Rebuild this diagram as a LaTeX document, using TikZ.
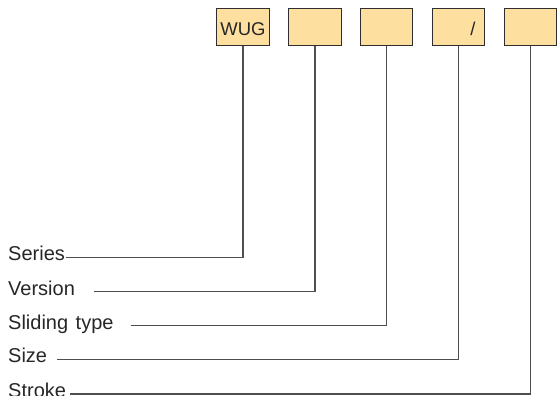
\documentclass[tikz,border=0pt]{standalone}
\usepackage{fontspec}
\setmainfont{Liberation Sans}
\definecolor{boxfill}{HTML}{FDDFA0}
\definecolor{boxline}{HTML}{2E2E2E}
\definecolor{connline}{HTML}{4F4F4F}
\begin{document}
\begin{tikzpicture}[x=1pt,y=-1pt,
  codebox/.style={draw=boxline,fill=boxfill,line width=1pt,minimum width=52.5pt,minimum height=37pt,inner sep=0pt,font=\fontsize{18.5}{22}\selectfont,text=black!85},
  lbl/.style={anchor=base west,inner sep=0pt,font=\fontsize{20}{22}\selectfont,text=black!85},
  conn/.style={draw=connline,line width=1.1pt}]
\useasboundingbox (0,0) rectangle (557,396);
\node[codebox,text height=18.4pt,text depth=0pt] (b1) at (243,26.8) {WUG};
\node[codebox] (b2) at (315,26.8) {};
\node[codebox] (b3) at (386.7,26.8) {};
\node[codebox] (b4) at (458.5,26.8) {};
\node[codebox] (b5) at (530.3,26.8) {};
\node[anchor=base,inner sep=0pt,font=\fontsize{18.5}{22}\selectfont,text=black!85] (slash) at (473,36) {/};
\node[lbl] (l1) at (8,260.9) {Series};
\node[lbl] (l2) at (8,295) {Version};
\node[lbl] (l3) at (8,329) {\spaceskip=7.5pt Sliding type};
\node[lbl] (l4) at (8,362.6) {Size};
\node[lbl] (l5) at (8,397) {Stroke};
\coordinate (s1) at (65.7,257.5);
\coordinate (s2) at (94,291.7);
\coordinate (s3) at (130.7,325.7);
\coordinate (s4) at (57.3,359.8);
\coordinate (s5) at (70,394);
\draw[conn] (b1.south) |- (s1);
\draw[conn] (b2.south) |- (s2);
\draw[conn] (b3.south) |- (s3);
\draw[conn] (b4.south) |- (s4);
\draw[conn] (b5.south) |- (s5);
\end{tikzpicture}
\end{document}
